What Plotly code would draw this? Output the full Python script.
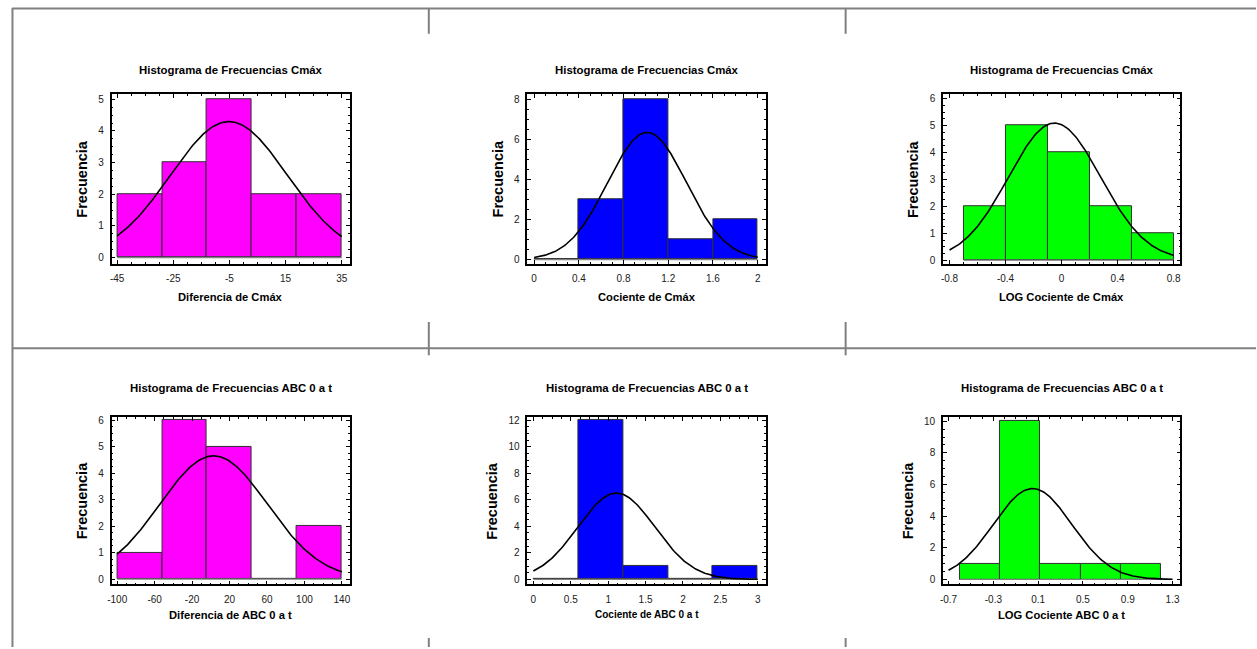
import numpy as np
import plotly.graph_objects as go

# ---------------- data ----------------
titles = ["Histograma de Frecuencias Cmáx"] * 3 + ["Histograma de Frecuencias ABC 0 a t"] * 3
xlabels = ["Diferencia de Cmáx", "Cociente de Cmáx", "LOG Cociente de Cmáx",
           "Diferencia de ABC 0 a t", "Cociente de ABC 0 a t", "LOG Cociente ABC 0 a t"]
ylabel = "Frecuencia"

edges_dif_cmax = [-45, -29, -13, 3, 19, 35]
counts_dif_cmax = [2, 3, 5, 2, 2]
edges_coc_cmax = [0, 0.4, 0.8, 1.2, 1.6, 2.0]
counts_coc_cmax = [0, 3, 8, 1, 2]
edges_log_cmax = [-0.7, -0.4, -0.1, 0.2, 0.5, 0.8]
counts_log_cmax = [2, 5, 4, 2, 1]
edges_dif_abc = [-100, -52, -4, 44, 92, 140]
counts_dif_abc = [1, 6, 5, 0, 2]
edges_coc_abc = [0, 0.6, 1.2, 1.8, 2.4, 3.0]
counts_coc_abc = [0, 12, 1, 0, 1]
edges_log_abc = [-0.6, -0.24, 0.12, 0.48, 0.84, 1.2]
counts_log_abc = [1, 10, 1, 1, 1]

# fitted normal curve parameters (mean, sd) and drawn x extent
normal_mean = [-5.2, 1.01, -0.05, 3.0, 1.11, 0.05]
normal_sd = [20.8, 0.352, 0.329, 57.6, 0.515, 0.35]
curve_span = [(-45, 35), (0, 2), (-0.8, 0.8), (-100, 140), (0, 3), (-0.7, 1.3)]

xtick_vals = [[-45, -25, -5, 15, 35], [0, 0.4, 0.8, 1.2, 1.6, 2],
              [-0.8, -0.4, 0, 0.4, 0.8], [-100, -60, -20, 20, 60, 100, 140],
              [0, 0.5, 1, 1.5, 2, 2.5, 3], [-0.7, -0.3, 0.1, 0.5, 0.9, 1.3]]
xtick_text = [["-45", "-25", "-5", "15", "35"], ["0", "0.4", "0.8", "1.2", "1.6", "2"],
              ["-0.8", "-0.4", "0", "0.4", "0.8"], ["-100", "-60", "-20", "20", "60", "100", "140"],
              ["0", "0.5", "1", "1.5", "2", "2.5", "3"], ["-0.7", "-0.3", "0.1", "0.5", "0.9", "1.3"]]
ytick_step = [1, 2, 1, 1, 2, 2]
ytick_max = [5, 8, 6, 6, 12, 10]

edges_all = [edges_dif_cmax, edges_coc_cmax, edges_log_cmax, edges_dif_abc, edges_coc_abc, edges_log_abc]
counts_all = [counts_dif_cmax, counts_coc_cmax, counts_log_cmax, counts_dif_abc, counts_coc_abc, counts_log_abc]
bar_colors = ["#FF00FF", "#0000FF", "#00FF00"] * 2

# ---------------- layout geometry (pixels) ----------------
W, H = 1257, 649
col_px = [(108, 347), (525.5, 765), (942.7, 1181)]
row_px = [(92.8, 263.3), (417.5, 586)]
x_ranges = [[-47.0, 37.8], [-0.06, 2.074], [-0.847, 0.848],
            [-106, 148.3], [-0.08, 3.11], [-0.75, 1.369]]
y_ranges = [[-0.19, 5.16], [-0.2, 8.25], [-0.127, 6.164],
            [-0.2, 6.124], [-0.375, 12.25], [-0.3125, 10.27]]

FONT = "Liberation Sans, Arial, sans-serif"

fig = go.Figure()
annotations = []
shapes = []

def px_x(p):
    return p / W

def px_y(p):
    return 1 - p / H

for i in range(6):
    r, c = divmod(i, 3)
    xa = "x" if i == 0 else f"x{i+1}"
    ya = "y" if i == 0 else f"y{i+1}"
    edges = np.array(edges_all[i], dtype=float)
    counts = np.array(counts_all[i], dtype=float)
    centers = (edges[:-1] + edges[1:]) / 2
    widths = edges[1:] - edges[:-1]

    # baseline where bars are empty
    fig.add_trace(go.Scatter(x=[edges[0], edges[-1]], y=[0, 0], mode="lines",
                             line=dict(color="#808080", width=1.2), xaxis=xa, yaxis=ya,
                             hoverinfo="skip", showlegend=False))
    fig.add_trace(go.Bar(x=centers, y=counts, width=widths, xaxis=xa, yaxis=ya,
                         marker=dict(color=bar_colors[i], line=dict(color="#303030", width=1)),
                         showlegend=False))
    n = counts.sum()
    bw = widths[0]
    xs = np.linspace(curve_span[i][0], curve_span[i][1], 200)
    ys = n * bw * np.exp(-0.5 * ((xs - normal_mean[i]) / normal_sd[i]) ** 2) / (normal_sd[i] * np.sqrt(2 * np.pi))
    fig.add_trace(go.Scatter(x=xs, y=ys, mode="lines", line=dict(color="black", width=1.6),
                             xaxis=xa, yaxis=ya, hoverinfo="skip", showlegend=False))

    x0, x1 = col_px[c]
    y0, y1 = row_px[r]
    axis_common = dict(showline=True, linecolor="black", linewidth=1.5, mirror="allticks",
                       ticks="inside", ticklen=4, tickcolor="black", tickwidth=1,
                       showgrid=False, zeroline=False, fixedrange=True,
                       tickfont=dict(family=FONT, size=10, color="#202020"))
    xstep = xtick_vals[i][1] - xtick_vals[i][0]
    fig.layout[("xaxis" if i == 0 else f"xaxis{i+1}")] = dict(
        axis_common, domain=[px_x(x0), px_x(x1)], range=x_ranges[i], anchor=ya,
        tickmode="array", tickvals=xtick_vals[i], ticktext=xtick_text[i],
        ticklabelstandoff=5,
        minor=dict(ticks="inside", ticklen=2, tickcolor="black", dtick=xstep / 4,
                   tick0=xtick_vals[i][0], showgrid=False))
    yvals = list(range(0, ytick_max[i] + 1, ytick_step[i]))
    fig.layout[("yaxis" if i == 0 else f"yaxis{i+1}")] = dict(
        axis_common, domain=[px_y(y1), px_y(y0)], range=y_ranges[i], anchor=xa,
        tickmode="array", tickvals=yvals, ticktext=[str(v) for v in yvals],
        ticklabelstandoff=4,
        minor=dict(ticks="inside", ticklen=2, tickcolor="black", dtick=ytick_step[i] / 4,
                   tick0=0, showgrid=False))

    cx = (x0 + x1) / 2
    title_y = 68 if r == 0 else 388.5
    xt_y = 296.5 if r == 0 else 616.5
    yt_x = x0 - (30 if ytick_max[i] < 10 else 35.5)
    cy = (y0 + y1) / 2
    annotations.append(dict(text=titles[i], x=px_x(cx), y=px_y(title_y), xref="paper", yref="paper",
                            showarrow=False, xanchor="center", yanchor="middle",
                            font=dict(family=FONT, size=11.4, color="black", weight="bold")))
    annotations.append(dict(text=xlabels[i], x=px_x(cx), y=px_y(xt_y), xref="paper", yref="paper",
                            showarrow=False, xanchor="center", yanchor="middle",
                            font=dict(family=FONT, size=11.2 if i != 4 else 10, color="black", weight="bold")))
    annotations.append(dict(text=ylabel, x=px_x(yt_x), y=px_y(cy), xref="paper", yref="paper",
                            showarrow=False, xanchor="center", yanchor="middle", textangle=-90,
                            font=dict(family=FONT, size=14.5, color="black", weight="bold")))

# outer table lines
grey = dict(color="#808080", width=2)
def line(xa, ya, xb, yb):
    shapes.append(dict(type="line", xref="paper", yref="paper", x0=px_x(xa), y0=px_y(ya),
                       x1=px_x(xb), y1=px_y(yb), line=grey))

line(8, 6.5, W, 6.5)
line(8.5, 6, 8.5, H)
line(8, 348.5, W, 348.5)
for vx in (426.5, 845):
    line(vx, 6, vx, 32)
    line(vx, 322, vx, 355.5)
    line(vx, 640, vx, H)

fig.update_layout(width=W, height=H, margin=dict(l=0, r=0, t=0, b=0),
                  paper_bgcolor="white", plot_bgcolor="white", bargap=0,
                  annotations=annotations, shapes=shapes)

fig.write_html("out.html", config={"displayModeBar": False},
               post_script="document.body.style.margin='0';document.body.style.overflow='hidden';"
                           "document.documentElement.style.overflow='hidden';")
